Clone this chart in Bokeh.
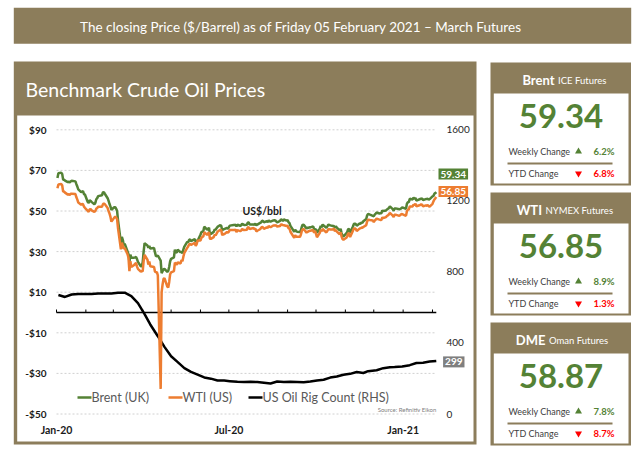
import datetime as dt
import math
from bokeh.plotting import figure
from bokeh.models import Range1d, Label
from bokeh.core.properties import value
from bokeh.embed import file_html
from bokeh.resources import INLINE

FONT = "Lato"

# ---------------- data ----------------
header_text = "The closing Price ($/Barrel) as of Friday 05 February 2021 \u2013 March Futures"
chart_title = "Benchmark Crude Oil Prices"
unit_text = "US$/bbl"
source_text = "Source: Refinitiv Eikon"

trading_days = {
    "2020-01": [2, 3, 6, 7, 8, 9, 10, 13, 14, 15, 16, 17, 21, 22, 23, 24, 27, 28, 29, 30, 31],
    "2020-02": [3, 4, 5, 6, 7, 10, 11, 12, 13, 14, 18, 19, 20, 21, 24, 25, 26, 27, 28],
    "2020-03": [2, 3, 4, 5, 6, 9, 10, 11, 12, 13, 16, 17, 18, 19, 20, 23, 24, 25, 26, 27, 30, 31],
    "2020-04": [1, 2, 3, 6, 7, 8, 9, 13, 14, 15, 16, 17, 20, 21, 22, 23, 24, 27, 28, 29, 30],
    "2020-05": [1, 4, 5, 6, 7, 8, 11, 12, 13, 14, 15, 18, 19, 20, 21, 22, 26, 27, 28, 29],
    "2020-06": [1, 2, 3, 4, 5, 8, 9, 10, 11, 12, 15, 16, 17, 18, 19, 22, 23, 24, 25, 26, 29, 30],
    "2020-07": [1, 2, 6, 7, 8, 9, 10, 13, 14, 15, 16, 17, 20, 21, 22, 23, 24, 27, 28, 29, 30, 31],
    "2020-08": [3, 4, 5, 6, 7, 10, 11, 12, 13, 14, 17, 18, 19, 20, 21, 24, 25, 26, 27, 28, 31],
    "2020-09": [1, 2, 3, 4, 8, 9, 10, 11, 14, 15, 16, 17, 18, 21, 22, 23, 24, 25, 28, 29, 30],
    "2020-10": [1, 2, 5, 6, 7, 8, 9, 12, 13, 14, 15, 16, 19, 20, 21, 22, 23, 26, 27, 28, 29, 30],
    "2020-11": [2, 3, 4, 5, 6, 9, 10, 11, 12, 13, 16, 17, 18, 19, 20, 23, 24, 25, 27, 30],
    "2020-12": [1, 2, 3, 4, 7, 8, 9, 10, 11, 14, 15, 16, 17, 18, 21, 22, 23, 24, 28, 29, 30, 31],
    "2021-01": [4, 5, 6, 7, 8, 11, 12, 13, 14, 15, 19, 20, 21, 22, 25, 26, 27, 28, 29],
    "2021-02": [1, 2, 3, 4, 5],
}

brent_usd = [
    66.25, 68.60, 68.91, 68.27, 65.44, 65.37, 64.98, 64.20, 64.49, 64.00, 64.62, 64.85, 64.59, 63.21, 62.04, 60.69, 59.32, 59.51, 59.81, 58.29, 58.16,
    54.45, 53.96, 55.28, 54.93, 54.47, 53.27, 54.01, 55.79, 56.34, 57.32, 57.75, 59.12, 59.31, 58.50, 56.30, 54.95, 53.43, 52.18, 50.52,
    51.90, 51.86, 51.13, 49.99, 45.27, 34.36, 37.22, 35.79, 33.22, 33.85, 30.05, 28.73, 24.88, 28.47, 26.98, 27.03, 27.15, 27.39, 26.34, 24.93, 22.76, 22.74,
    24.74, 29.94, 34.11, 33.05, 31.87, 32.84, 31.48, 31.74, 29.60, 27.69, 27.82, 28.08, 25.57, 19.33, 20.37, 21.33, 21.44, 19.99, 20.46, 22.54, 25.27,
    26.44, 27.20, 30.97, 29.72, 29.46, 30.97, 29.63, 29.98, 29.19, 31.13, 32.50, 34.81, 34.65, 35.75, 36.06, 35.13, 36.17, 34.74, 35.29, 35.33,
    38.32, 39.57, 39.79, 39.99, 42.30, 40.80, 41.18, 41.73, 38.55, 38.73, 39.72, 40.96, 40.71, 41.51, 42.19, 43.08, 42.63, 40.31, 41.05, 41.02, 41.71, 41.15,
    42.03, 42.80, 43.10, 43.08, 43.29, 42.35, 43.24, 42.72, 42.90, 43.79, 43.37, 43.14, 43.28, 44.32, 44.29, 43.31, 43.34, 43.41, 43.22, 43.75, 42.94, 43.30,
    44.15, 44.43, 45.17, 45.09, 44.40, 44.99, 44.50, 45.43, 44.96, 44.80, 45.37, 45.46, 45.37, 44.90, 44.35, 45.13, 45.86, 45.64, 45.09, 45.81, 45.28,
    45.58, 44.43, 44.07, 42.66, 39.78, 40.79, 40.06, 39.83, 39.61, 40.53, 42.22, 43.30, 43.15, 41.44, 41.72, 41.77, 41.94, 41.92, 42.43, 41.03, 40.95,
    40.93, 39.27, 41.29, 42.65, 41.99, 43.34, 42.85, 41.72, 42.45, 43.32, 43.16, 42.93, 42.62, 42.62, 41.73, 42.46, 41.77, 40.46, 41.20, 39.12, 37.65, 37.46,
    38.97, 39.71, 41.23, 40.93, 39.45, 42.40, 43.61, 43.80, 43.53, 42.78, 43.82, 43.75, 44.34, 44.20, 44.96, 46.06, 47.86, 48.61, 48.18, 47.59,
    47.42, 48.25, 48.71, 49.25, 48.79, 48.84, 48.86, 50.25, 49.97, 50.29, 50.76, 51.08, 51.50, 52.26, 50.91, 50.08, 51.20, 51.29, 50.86, 51.09, 51.34, 51.80,
    51.09, 53.60, 54.30, 54.38, 55.99, 55.66, 56.58, 56.06, 56.42, 55.10, 55.90, 56.08, 56.10, 55.41, 55.88, 55.91, 56.04, 55.53, 55.88,
    57.25, 57.46, 58.46, 58.84, 59.34,
]

wti_usd = [
    61.18, 63.05, 63.27, 62.70, 59.61, 59.56, 59.04, 58.08, 58.23, 57.81, 58.52, 58.54, 58.34, 56.74, 55.59, 54.19, 53.14, 53.48, 53.33, 52.14, 51.56,
    50.11, 49.61, 50.75, 50.95, 50.32, 49.57, 49.94, 51.17, 51.42, 52.05, 52.05, 53.29, 53.78, 53.38, 51.43, 49.90, 48.73, 47.09, 44.76,
    46.75, 47.18, 46.78, 45.90, 41.28, 31.13, 34.36, 32.98, 31.50, 31.73, 28.70, 26.95, 20.37, 25.22, 22.43, 23.36, 24.01, 24.49, 22.60, 21.51, 20.09, 20.48,
    20.31, 25.32, 28.34, 26.08, 23.63, 25.09, 22.76, 22.41, 20.11, 19.87, 19.87, 18.27, -37.63, 10.01, 13.78, 16.50, 16.94, 12.78, 12.34, 15.06, 18.84,
    19.78, 20.39, 24.56, 23.99, 23.55, 24.74, 24.14, 25.78, 25.29, 27.56, 29.43, 31.82, 32.50, 33.49, 33.92, 33.25, 34.35, 32.81, 33.71, 35.49,
    35.44, 36.81, 37.29, 37.41, 39.55, 38.19, 38.94, 39.60, 36.34, 36.26, 37.12, 38.38, 37.96, 38.84, 39.75, 40.73, 40.37, 38.01, 38.72, 38.49, 39.70, 39.27,
    39.82, 40.65, 40.63, 40.62, 40.90, 39.62, 40.55, 40.10, 40.29, 41.20, 40.75, 40.59, 40.81, 41.96, 41.90, 41.07, 41.29, 41.60, 41.04, 41.27, 39.92, 40.27,
    41.01, 41.70, 42.19, 41.95, 41.22, 41.94, 41.61, 42.67, 42.24, 42.01, 42.89, 42.89, 42.93, 42.82, 42.34, 42.62, 43.35, 43.39, 43.04, 42.97, 42.61,
    42.76, 41.51, 41.37, 39.77, 36.76, 38.05, 37.30, 37.33, 37.26, 38.28, 40.16, 40.97, 41.11, 39.31, 39.80, 39.93, 40.31, 40.25, 40.60, 39.29, 40.22,
    38.72, 37.05, 39.22, 40.67, 39.95, 41.19, 40.60, 39.43, 40.20, 41.04, 40.96, 40.88, 40.83, 41.46, 40.03, 40.64, 39.85, 38.56, 39.57, 37.39, 36.17, 35.79,
    36.81, 37.66, 39.15, 38.79, 37.14, 40.29, 41.36, 41.45, 41.12, 40.13, 41.34, 41.43, 41.82, 41.74, 42.15, 43.06, 44.91, 45.71, 45.53, 45.34,
    44.55, 45.28, 45.64, 46.26, 45.76, 45.60, 45.52, 46.78, 46.57, 46.99, 47.62, 47.82, 48.36, 49.10, 47.74, 47.02, 48.12, 48.23, 47.62, 48.00, 48.40, 48.52,
    47.62, 49.93, 50.63, 50.83, 52.24, 52.25, 53.21, 52.91, 53.57, 52.36, 52.98, 53.24, 53.13, 52.27, 52.77, 52.61, 52.85, 52.34, 52.20,
    53.55, 54.76, 55.69, 56.23, 56.85,
]

rig_dates = [
    "2020-01-03", "2020-01-10", "2020-01-17", "2020-01-24", "2020-01-31", "2020-02-07", "2020-02-14", "2020-02-21",
    "2020-02-28", "2020-03-06", "2020-03-13", "2020-03-20", "2020-03-27", "2020-04-03", "2020-04-09", "2020-04-17",
    "2020-04-24", "2020-05-01", "2020-05-08", "2020-05-15", "2020-05-22", "2020-05-29", "2020-06-05", "2020-06-12",
    "2020-06-19", "2020-06-26", "2020-07-02", "2020-07-10", "2020-07-17", "2020-07-24", "2020-07-31", "2020-08-07",
    "2020-08-14", "2020-08-21", "2020-08-28", "2020-09-04", "2020-09-11", "2020-09-18", "2020-09-25", "2020-10-02",
    "2020-10-09", "2020-10-16", "2020-10-23", "2020-10-30", "2020-11-06", "2020-11-13", "2020-11-20", "2020-11-25",
    "2020-12-04", "2020-12-11", "2020-12-18", "2020-12-23", "2020-12-31", "2021-01-08", "2021-01-15", "2021-01-22",
    "2021-01-29", "2021-02-05",
]
rig_count = [
    670, 659, 673, 676, 675, 676, 678, 679,
    679, 682, 683, 664, 624, 562, 504, 438,
    378, 325, 292, 258, 237, 222, 206, 199,
    189, 188, 185, 181, 180, 181, 180, 176,
    172, 183, 180, 181, 180, 179, 183, 189,
    193, 205, 211, 221, 226, 236, 231, 241,
    246, 258, 263, 264, 267, 275, 287, 289,
    295, 299,
]

usd_ticks = [90, 70, 50, 30, 10, -10, -30, -50]
usd_tick_labels = ["$90", "$70", "$50", "$30", "$10", "-$10", "-$30", "-$50"]
rig_ticks = [1600, 1200, 800, 400, 0]
rig_tick_labels = ["1600", "1200", "800", "400", "0"]
date_ticks = ["2020-01-01", "2020-07-01", "2021-01-01"]
date_tick_labels = ["Jan-20", "Jul-20", "Jan-21"]
series_names = ["Brent (UK)", "WTI (US)", "US Oil Rig Count (RHS)"]

bench_names = ["Brent", "WTI", "DME"]
bench_subtitles = ["ICE Futures", "NYMEX Futures", "Oman Futures"]
bench_prices = [59.34, 56.85, 58.87]
weekly_change = [6.2, 8.9, 7.8]
ytd_change = [-6.8, -1.3, -8.7]

# ---------------- styles ----------------
TAN = "#8C7D5B"
GREEN = "#548235"
ORANGE = "#ED7D31"
BLACK = "#000000"
GRAY_BOX = "#7F7F7F"
RED = "#FF0000"


def ms(d):
    return (d - dt.datetime(1970, 1, 1)).total_seconds() * 1000.0


price_dates = []
for ym, days in trading_days.items():
    yy, mm = map(int, ym.split("-"))
    for d in days:
        price_dates.append(dt.datetime(yy, mm, d))
price_x = [ms(d) for d in price_dates]
rig_x = [ms(dt.datetime.strptime(s, "%Y-%m-%d")) for s in rig_dates]
date_tick_x = [ms(dt.datetime.strptime(s, "%Y-%m-%d")) for s in date_ticks]

# canvas in page pixels (Bokeh page has no body margin)
W, H = 640, 454
t0 = ms(dt.datetime(2020, 1, 1))
t1 = ms(dt.datetime(2021, 2, 1))
X0, X1 = 56.0, 432.0          # pixel positions of the first and last month ticks
mpp = (t1 - t0) / (X1 - X0)
date_range = Range1d(t0 - X0 * mpp, t0 + (W - X0) * mpp)
Y90, YM50 = 129.3, 413.5      # pixel positions of $90 and -$50
upp = 140.0 / (YM50 - Y90)
usd_range = Range1d(-50 - (H - YM50) * upp, 90 + Y90 * upp)
rig_range = Range1d((usd_range.start + 50) * 1600 / 140, (usd_range.end + 50) * 1600 / 140)

p = figure(width=W, height=H, x_range=Range1d(0, W), y_range=Range1d(H, 0),
           output_backend="svg", toolbar_location=None, tools="",
           x_axis_location=None, y_axis_location=None, min_border=0)
p.extra_x_ranges = {"date": date_range}
p.extra_y_ranges = {"usd": usd_range, "rig": rig_range}
p.grid.visible = False
p.outline_line_color = None
p.background_fill_color = "white"
p.border_fill_color = "white"


def txt(x, y, s, size, color, bold=False, align="left", baseline="middle",
        xr="default", yr="default", y_offset=0):
    p.text(x=x if isinstance(x, list) else [x], y=y if isinstance(y, list) else [y],
           text=s if isinstance(s, list) else [s],
           text_font=value(FONT), text_font_size=f"{size}px", text_color=color,
           text_font_style="bold" if bold else "normal",
           text_align=align, text_baseline=baseline,
           x_range_name=xr, y_range_name=yr, y_offset=y_offset)


# header
p.quad(left=[13.3], right=[630.7], top=[7.3], bottom=[43.3], fill_color=TAN, line_color=None)
txt(300.5, 26, header_text, 13.5, "white", align="center")

# chart panel
p.quad(left=[13.3], right=[476], top=[61], bottom=[444], fill_color=TAN, line_color=None)
p.quad(left=[16.7], right=[473], top=[115], bottom=[441], fill_color="white", line_color=None)
txt(25, 89, chart_title, 19.5, "white")

# grid lines, zero axis, ticks
p.segment(x0=[t0] * len(usd_ticks), x1=[price_x[-1]] * len(usd_ticks), y0=usd_ticks, y1=usd_ticks,
          line_color="#D0D0D0", line_width=1, line_dash="2 2", x_range_name="date", y_range_name="usd")
p.segment(x0=[t0], x1=[price_x[-1]], y0=[0], y1=[0], line_color=BLACK, line_width=1.3,
          x_range_name="date", y_range_name="usd")
month_x = []
for k in range(14):
    yy, mm = 2020 + k // 12, k % 12 + 1
    month_x.append(ms(dt.datetime(yy, mm, 1)))
p.ray(x=month_x, y=[0] * len(month_x), length=3, length_units="screen", angle=math.pi / 2,
      line_color=BLACK, line_width=1, x_range_name="date", y_range_name="usd")

# series
p.line(rig_x, rig_count, line_color=BLACK, line_width=2.5, x_range_name="date", y_range_name="rig")
p.line(price_x, brent_usd, line_color=GREEN, line_width=2.5, x_range_name="date", y_range_name="usd")
p.line(price_x, wti_usd, line_color=ORANGE, line_width=2.5, x_range_name="date", y_range_name="usd")

# axis labels
txt([46] * len(usd_ticks), usd_ticks, usd_tick_labels, 10, "#1A1A1A", bold=True, align="right", yr="usd")
txt([446] * len(rig_ticks), rig_ticks, rig_tick_labels, 10, "#262626", align="left", yr="rig")
txt(date_tick_x, [-50] * len(date_tick_x), date_tick_labels, 10.5, "#1A1A1A", bold=True,
    align="center", xr="date", yr="usd", y_offset=15.5)

txt(242, 210, unit_text, 10.5, "#1A1A1A", bold=True)
txt(436, 409, source_text, 6, "#808080", align="right")

# legend
leg_cols = [GREEN, ORANGE, BLACK]
leg_x = [77, 168, 248]
for name, col, lx in zip(series_names, leg_cols, leg_x):
    p.line([lx, lx + 14], [397, 397], line_color=col, line_width=2.5)
    txt(lx + 14, 397, name, 12.5, "#595959")

# end value labels
for val, col, fmt, dx, dy, yr in [(brent_usd[-1], GREEN, "{:.2f}", 17, 18, "usd"),
                                  (wti_usd[-1], ORANGE, "{:.2f}", 17, 5.6, "usd"),
                                  (rig_count[-1], GRAY_BOX, "{:d}", 17.5, -1, "rig")]:
    p.add_layout(Label(x=price_x[-1], y=val, x_range_name="date", y_range_name=yr,
                       x_offset=dx, y_offset=dy, text=fmt.format(val),
                       text_font=FONT, text_font_size="10px", text_font_style="bold",
                       text_color="white", text_align="center", text_baseline="middle",
                       background_fill_color=col, padding=2))

# right benchmark panels
panel_tops = [62, 192, 322]
split_x = [554, 541.5, 545]
for i in range(3):
    top = panel_tops[i]
    p.quad(left=[490], right=[630.5], top=[top], bottom=[top + 123], fill_color=TAN, line_color=None)
    p.quad(left=[493.3], right=[628], top=[top + 31], bottom=[top + 121], fill_color="white", line_color=None)
    txt(split_x[i], top + 17, bench_names[i], 13, "white", bold=True, align="right")
    txt(split_x[i] + 3.5, top + 18, bench_subtitles[i], 9.5, "white", align="left")
    txt(560.5, top + 53.5, f"{bench_prices[i]:.2f}", 33, GREEN, bold=True, align="center")
    txt(508, top + 89, "Weekly Change", 9, "#404040")
    txt(508, top + 111, "YTD Change", 9, "#404040")
    p.segment(x0=[507], x1=[612], y0=[top + 101], y1=[top + 101], line_color=TAN, line_width=2)
    for yy, ch in [(top + 89, weekly_change[i]), (top + 111, ytd_change[i])]:
        col = GREEN if ch >= 0 else RED
        p.scatter([578], [yy], marker="triangle" if ch >= 0 else "inverted_triangle", size=7,
                  fill_color=col, line_color=None)
        txt(593, yy, f"{abs(ch):.1f}%", 9.5, col, bold=True)

open("out.html", "w").write(file_html(p, INLINE))
